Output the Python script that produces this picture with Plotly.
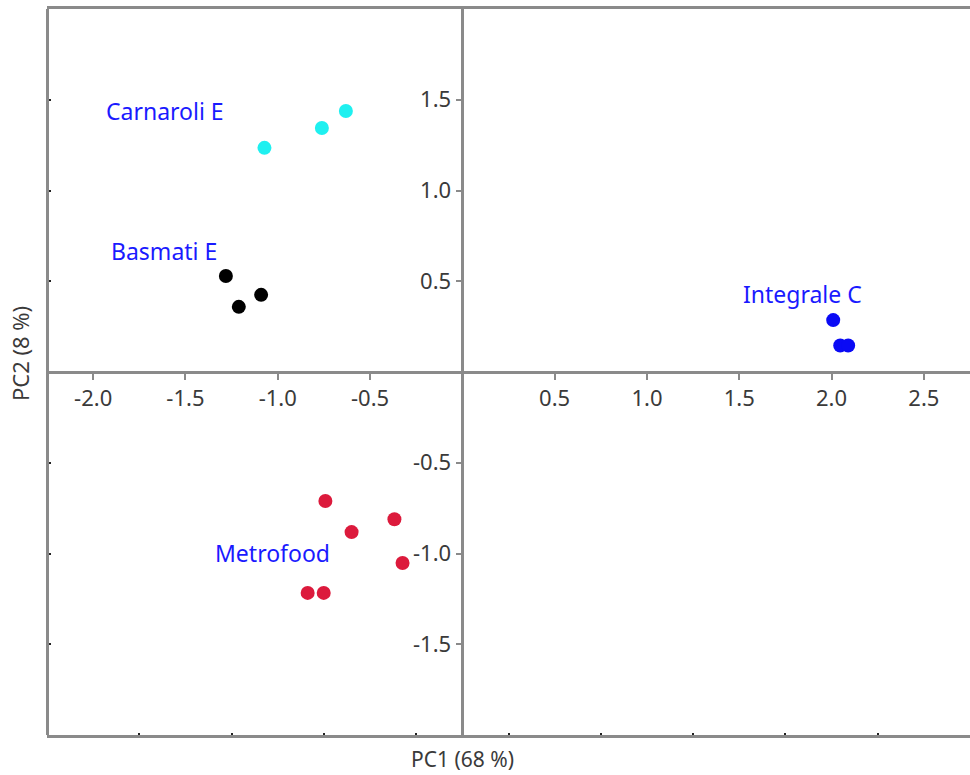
import plotly.graph_objects as go

# ---- data ----
groups = ["Carnaroli E", "Basmati E", "Metrofood", "Integrale C"]
colors = ["#1ff0f0", "#000000", "#dc1a3c", "#0a0af5"]
pc1 = {
    "Carnaroli E": [-1.072, -0.761, -0.631],
    "Basmati E": [-1.281, -1.090, -1.211],
    "Metrofood": [-0.742, -0.368, -0.600, -0.324, -0.838, -0.751],
    "Integrale C": [2.009, 2.047, 2.090],
}
pc2 = {
    "Carnaroli E": [1.235, 1.344, 1.438],
    "Basmati E": [0.529, 0.425, 0.359],
    "Metrofood": [-0.711, -0.811, -0.882, -1.052, -1.217, -1.217],
    "Integrale C": [0.286, 0.146, 0.146],
}
label_x = [-1.613, -1.618, -1.031, 1.842]
label_y = [1.44, 0.664, -0.998, 0.431]

x_ticks = [-2.0, -1.5, -1.0, -0.5, 0.5, 1.0, 1.5, 2.0, 2.5]
y_ticks = [-1.5, -1.0, -0.5, 0.5, 1.0, 1.5]
frame_x_ticks = [-1.75, -1.25, -0.75, -0.25, 0.25, 0.75, 1.25, 1.75, 2.25]
x_range = [-2.25, 2.75]
y_range = [-2.0, 2.0]

FONT = "Noto Sans"
AXIS_GREY = "#8a8a8a"
TEXT_GREY = "#3a3a3a"

fig = go.Figure()
for g, c in zip(groups, colors):
    fig.add_trace(go.Scatter(
        x=pc1[g], y=pc2[g], mode="markers", name=g,
        marker=dict(size=14, color=c, line=dict(width=0)),
        xaxis="x", yaxis="y", showlegend=False,
    ))

# empty trace so the frame axes get drawn
fig.add_trace(go.Scatter(x=[], y=[], xaxis="x2", yaxis="y2", showlegend=False))

for g, lx, ly in zip(groups, label_x, label_y):
    fig.add_annotation(x=lx, y=ly, xref="x", yref="y", text=g, showarrow=False,
                       font=dict(family=FONT, size=23, color="#1a1aff"))

xpos = (0 - y_range[0]) / (y_range[1] - y_range[0])
ypos = (0 - x_range[0]) / (x_range[1] - x_range[0])

fig.update_layout(
    width=970, height=775,
    margin=dict(l=47, r=0, t=9, b=40),
    paper_bgcolor="white", plot_bgcolor="white",
    xaxis=dict(
        range=x_range, anchor="free", position=xpos,
        showgrid=False, zeroline=False,
        showline=True, linecolor=AXIS_GREY, linewidth=2.5,
        ticks="outside", ticklen=6, tickwidth=1.5, tickcolor=AXIS_GREY,
        tickvals=x_ticks, ticktext=[f"{v:.1f}" for v in x_ticks],
        tickfont=dict(family=FONT, size=22, color=TEXT_GREY),
    ),
    yaxis=dict(
        range=y_range, anchor="free", position=ypos,
        showgrid=False, zeroline=False,
        showline=True, linecolor=AXIS_GREY, linewidth=2.5,
        ticks="outside", ticklen=6, tickwidth=1.5, tickcolor=AXIS_GREY,
        tickvals=y_ticks, ticktext=[f"{v:.1f}" for v in y_ticks],
        tickfont=dict(family=FONT, size=22, color=TEXT_GREY),
    ),
    xaxis2=dict(
        range=x_range, overlaying="x", anchor="y2", side="bottom",
        showgrid=False, zeroline=False, showticklabels=False,
        showline=True, mirror=True, linecolor=AXIS_GREY, linewidth=2.5,
        ticks="inside", ticklen=2, tickwidth=2, tickcolor="#222222",
        tickvals=frame_x_ticks,
    ),
    yaxis2=dict(
        range=y_range, overlaying="y", anchor="free", position=0, side="left",
        showgrid=False, zeroline=False, showticklabels=False,
        showline=True, linecolor=AXIS_GREY, linewidth=2.5,
        ticks="inside", ticklen=2, tickwidth=2, tickcolor="#222222",
        tickvals=y_ticks,
    ),
)

fig.add_annotation(x=0.4505, y=-0.033, xref="paper", yref="paper", yanchor="middle",
                   text="PC1 (68 %)", showarrow=False, borderpad=0,
                   font=dict(family=FONT, size=21, color=TEXT_GREY))
fig.add_annotation(x=-0.029, y=0.525, xref="paper", yref="paper",
                   xanchor="center", yanchor="middle",
                   text="PC2 (8 %)", showarrow=False, textangle=-90,
                   font=dict(family=FONT, size=22, color=TEXT_GREY))

fig.write_html("out.html")
